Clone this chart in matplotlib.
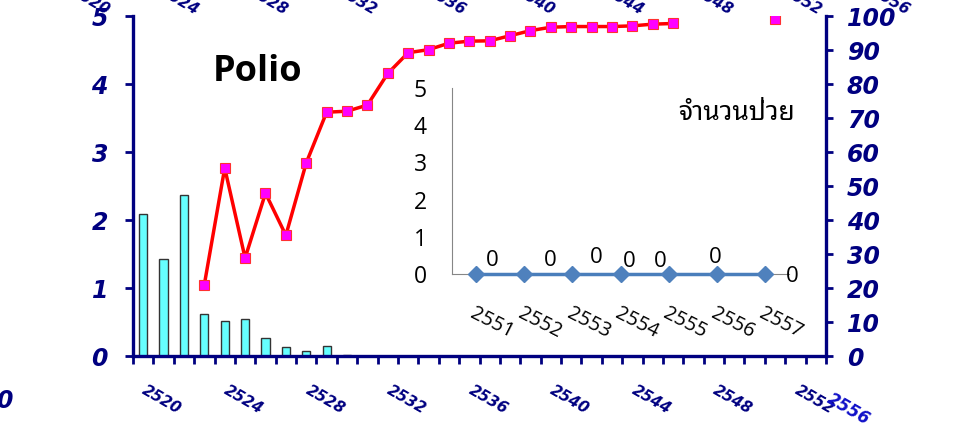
import numpy as np
import matplotlib
matplotlib.use("Agg")
import matplotlib.pyplot as plt
from matplotlib.transforms import ScaledTranslation

plt.rcParams['font.family'] = ['DejaVu Sans']

NAVY = '#000080'
THAI = ['Noto Sans Thai Looped', 'Sarabun', 'Noto Sans Thai', 'Athiti', 'DejaVu Sans']
INSET_FONT = ['Open Sans', 'DejaVu Sans']

# Buddhist-era years on the main chart
years = np.arange(2520, 2554)
year_labels = ['2520', '2524', '2528', '2532', '2536', '2540', '2544', '2548', '2552']

# polio cases (left axis) for 2520-2530
case_years = [2520, 2521, 2522, 2523, 2524, 2525, 2526, 2527, 2528, 2529, 2530]
cases = [2.09, 1.42, 2.37, 0.62, 0.52, 0.55, 0.27, 0.13, 0.08, 0.14, 0.02]

# vaccine coverage % (right axis), one entry per year, nan = no data
nan = np.nan
coverage = [nan, nan, nan, 21.0, 55.3, 28.8, 47.9, 35.5, 56.8, 71.7,
            72.0, 73.8, 83.1, 89.2, 90.1, 92.0, 92.6, 92.7, 94.2, 95.7,
            96.7, 96.9, 96.9, 96.9, 97.1, 97.6, 97.8, nan, nan, nan,
            nan, 99.0, nan, nan]

# inset: recent years, patient counts
inset_years = ['2551', '2552', '2553', '2554', '2555', '2556', '2557']
inset_cases = [0, 0, 0, 0, 0, 0, 0]
inset_label_offsets = [(12, 10), (19, 10), (17, 12), (6, 9), (-6, 9), (-1, 12), (20, -2)]

# stray axis labels from the neighbouring chart
top_labels = ['2520', '2524', '2528', '2532', '2536', '2540', '2544', '2548', '2552', '2556']

W, H = 961, 425
fig = plt.figure(figsize=(W / 100, H / 100), dpi=100)
ax = fig.add_axes([133 / W, 69 / H, 693 / W, 340 / H])
ax2 = ax.twinx()

ax.bar(case_years, cases, width=0.4, color='#66FFFF', edgecolor='#333333', linewidth=1.0, zorder=2)
ax2.plot(years, coverage, color='red', lw=2.5, marker='s', ms=6.5,
         mfc='#FF00FF', mec='#FF3030', mew=0.8, zorder=3)

ax.set_xlim(2519.5, 2553.5)
ax.set_ylim(0, 5)
ax2.set_ylim(0, 100)

# tick marks sit between categories, labels every fourth year
ax.set_xticks(np.arange(2519.5, 2554.5, 1))
ax.set_xticklabels([])
ax.set_xticks([int(y) for y in year_labels], minor=True)
ax.set_xticklabels(year_labels, minor=True, rotation=-30, ha='left', va='top',
                   rotation_mode='anchor')
ax.tick_params(axis='x', which='major', direction='out', length=5.5, width=2, color=NAVY)
ax.tick_params(axis='x', which='minor', length=0, pad=19.5, labelsize=11, labelcolor=NAVY)

ax.set_yticks(range(0, 6))
ax.tick_params(axis='y', length=6, width=2, pad=12, labelsize=17, color=NAVY, labelcolor=NAVY)
ax2.set_yticks(range(0, 101, 10))
ax2.tick_params(axis='y', length=5, width=2, pad=10, labelsize=17, color=NAVY, labelcolor=NAVY)

for lab in ax.get_xticklabels(minor=True) + ax.get_yticklabels() + ax2.get_yticklabels():
    lab.set_fontweight('bold')
    lab.set_fontstyle('italic')
nudge = ScaledTranslation(3 / 72, 0, fig.dpi_scale_trans)
for lab in ax.get_xticklabels(minor=True):
    lab.set_transform(lab.get_transform() + nudge)

for a in (ax, ax2):
    a.spines['top'].set_visible(False)
ax.spines['right'].set_visible(False)
ax2.spines['left'].set_visible(False)
ax2.spines['bottom'].set_visible(False)
for sp in (ax.spines['left'], ax.spines['bottom'], ax2.spines['right']):
    sp.set_color(NAVY)
    sp.set_linewidth(2.4)

ax.text(0.18, 0.835, 'Polio', transform=ax.transAxes, ha='center', va='center',
        fontsize=26, fontweight='bold', family=['Open Sans', 'DejaVu Sans'], color='black')

# inset chart
axi = fig.add_axes([452 / W, 151 / H, 337 / W, 186 / H])
axi.patch.set_visible(False)
xs = np.arange(len(inset_years))
axi.plot(xs, inset_cases, color='#4A7EBB', lw=2.5, marker='D', ms=8.5,
         mfc='#4F81BD', mec='#4F81BD', zorder=3, clip_on=False)
for x, v, off in zip(xs, inset_cases, inset_label_offsets):
    axi.annotate(str(v), (x, v), xytext=off, textcoords='offset points',
                 ha='center', va='center', fontsize=16, family=INSET_FONT)
axi.set_xlim(-0.5, len(inset_years) - 0.5)
axi.set_ylim(0, 5)
axi.set_yticks(range(0, 6))
axi.set_xticks(xs)
axi.set_xticklabels(inset_years, rotation=-27, ha='left', va='top', rotation_mode='anchor')
axi.tick_params(axis='y', length=0, pad=18, labelsize=16.5)
axi.tick_params(axis='x', length=0, pad=21, labelsize=14.5)
for lab in axi.get_xticklabels() + axi.get_yticklabels():
    lab.set_family(INSET_FONT)
for s in ('top', 'right'):
    axi.spines[s].set_visible(False)
for s in ('left', 'bottom'):
    axi.spines[s].set_color('#868686')
    axi.spines[s].set_linewidth(0.8)
axi.text(0.843, 0.866, 'จำนวนป่วย', transform=axi.transAxes, ha='center', va='center',
         fontsize=19, family=THAI)

# labels of the chart that overlaps this one, cut by the figure edges
for i, lab in enumerate(top_labels):
    fig.text((107 + 88.9 * i) / W, 1 - 15 / H, lab, rotation=-30, rotation_mode='anchor',
             ha='right', va='baseline', color=NAVY, fontsize=11,
             fontweight='bold', fontstyle='italic')
fig.text(13 / W, 1 - 408 / H, '0', ha='right', va='baseline', color=NAVY,
         fontsize=17, fontweight='bold', fontstyle='italic')
fig.text(833 / W, 1 - 390 / H, '2556', rotation=-30, rotation_mode='anchor',
         ha='left', va='top', color='#1010C8', fontsize=12,
         fontweight='bold', fontstyle='italic')

fig.savefig('out.png', dpi=100)
